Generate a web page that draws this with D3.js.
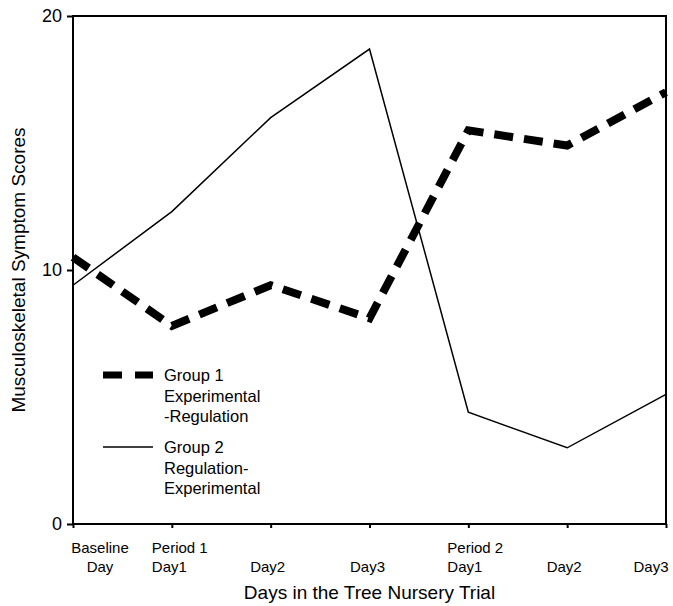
<!DOCTYPE html>
<html>
<head>
<meta charset="utf-8">
<script src="https://cdn.jsdelivr.net/npm/d3@7"></script>
<style>
  body { margin: 0; background: #fff; }
  text { font-family: "Liberation Sans", Arial, sans-serif; fill: #000; }
</style>
</head>
<body>
<div id="chart"></div>
<script>
// chart data
const days = ["Baseline Day", "Period 1 Day1", "Day2", "Day3", "Period 2 Day1", "Day2 ", "Day3 "];
const tickLines = [["Baseline", "Day"], ["Period 1", "Day1"], ["", "Day2"], ["", "Day3"], ["Period 2", "Day1"], ["", "Day2"], ["", "Day3"]];
const group1 = [10.5, 7.8, 9.4, 8.1, 15.5, 14.9, 17.0];
const group2 = [9.4, 12.3, 16.0, 18.7, 4.4, 3.0, 5.1];
const yTicks = [0, 10, 20];

// dimensions
const width = 673, height = 606;
const margin = { top: 16, right: 7, bottom: 82, left: 73 };

const svg = d3.select("#chart")
    .append("svg")
    .attr("width", width)
    .attr("height", height);

const x = d3.scalePoint()
    .domain(days)
    .range([margin.left, width - margin.right]);

const y = d3.scaleLinear()
    .domain([0, 20])
    .range([height - margin.bottom, margin.top]);

// frame
svg.append("rect")
    .attr("x", margin.left)
    .attr("y", margin.top)
    .attr("width", width - margin.right - margin.left)
    .attr("height", height - margin.bottom - margin.top)
    .attr("fill", "none")
    .attr("stroke", "#000")
    .attr("stroke-width", 2);

// y axis
const yAxis = svg.append("g")
    .attr("transform", `translate(${margin.left},0)`)
    .call(d3.axisLeft(y).tickValues(yTicks).tickSize(6).tickPadding(5));
yAxis.select(".domain").remove();
yAxis.selectAll("line").attr("stroke-width", 2);
yAxis.selectAll("text").style("font-size", "18px");

// x axis
const xAxis = svg.append("g")
    .attr("transform", `translate(0,${height - margin.bottom})`)
    .call(d3.axisBottom(x).tickSize(4).tickFormat(""));
xAxis.select(".domain").remove();
xAxis.selectAll("line").attr("stroke-width", 2);

// tick label placement: [anchor, offset from tick]
const labelPos = [["middle", 27], ["start", -20], ["middle", -3], ["middle", -2], ["start", -21], ["middle", -3], ["middle", -15]];
tickLines.forEach(function (lines, i) {
    const t = svg.append("text")
        .attr("text-anchor", labelPos[i][0])
        .style("font-size", "15px")
        .attr("transform", `translate(${x(days[i]) + labelPos[i][1]},${height - margin.bottom + 29})`);
    lines.forEach(function (s, j) {
        t.append("tspan").attr("x", 0).attr("dy", j === 0 ? 0 : 19).text(s);
    });
});

// axis titles
svg.append("text")
    .attr("x", (margin.left + width - margin.right) / 2)
    .attr("y", 599)
    .attr("text-anchor", "middle")
    .style("font-size", "19px")
    .text("Days in the Tree Nursery Trial");

svg.append("text")
    .attr("transform", `translate(25,${y(10)}) rotate(-90)`)
    .attr("text-anchor", "middle")
    .style("font-size", "19px")
    .text("Musculoskeletal Symptom Scores");

// lines
const line = d3.line()
    .x(function (d, i) { return x(days[i]); })
    .y(function (d) { return y(d); });

svg.append("path")
    .datum(group2)
    .attr("fill", "none")
    .attr("stroke", "#000")
    .attr("stroke-width", 1.5)
    .attr("d", line);

svg.append("path")
    .datum(group1)
    .attr("fill", "none")
    .attr("stroke", "#000")
    .attr("stroke-width", 8)
    .attr("stroke-dasharray", "19,11")
    .attr("d", line);

// legend
const legend = [
    { lines: ["Group 1", "Experimental", "-Regulation"], w: 7, dash: "19,13", y: 375 },
    { lines: ["Group 2", "Regulation-", "Experimental"], w: 1.5, dash: null, y: 447 }
];
legend.forEach(function (d) {
    svg.append("line")
        .attr("x1", 103).attr("x2", 153)
        .attr("y1", d.y).attr("y2", d.y)
        .attr("stroke", "#000")
        .attr("stroke-width", d.w)
        .attr("stroke-dasharray", d.dash);
    const t = svg.append("text")
        .attr("x", 164)
        .attr("y", d.y + 6)
        .style("font-size", "16.5px");
    d.lines.forEach(function (s, j) {
        t.append("tspan").attr("x", 164).attr("dy", j === 0 ? 0 : 20.5).text(s);
    });
});
</script>
</body>
</html>
